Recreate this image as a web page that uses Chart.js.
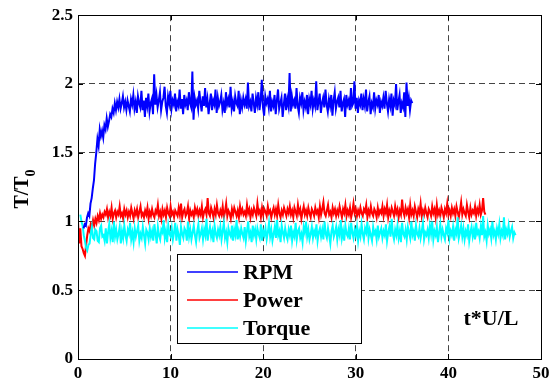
<!DOCTYPE html>
<html>
<head>
<meta charset="utf-8">
<script src="https://cdn.jsdelivr.net/npm/chart.js@4.4.0/dist/chart.umd.min.js"></script>
<style>
  html, body { margin: 0; padding: 0; background: #fff; }
  #wrap { width: 555px; height: 383px; }
</style>
</head>
<body>
<div id="wrap"><canvas id="plot" width="555" height="383"></canvas></div>
<script>
// muestreo de las tres señales (paso en t*U/L)
const dt = 0.125;

const rpmStart = 0.6;
const rpm = [
  0.95, 0.98, 0.97, 1.03, 1.06, 1.04, 1.13, 1.17, 1.24, 1.30, 1.42, 1.50, 1.60, 1.55, 1.67, 1.62, 1.66, 1.61, 1.70, 1.67,
  1.75, 1.69, 1.73, 1.78, 1.76, 1.82, 1.79, 1.86, 1.81, 1.87, 1.83, 1.89, 1.82, 1.86, 1.91, 1.83, 1.87, 1.81, 1.88,
  1.84, 1.80, 1.89, 1.85, 1.92, 1.82, 1.87, 1.79, 1.91, 1.86, 1.83, 1.95, 1.81, 1.88, 1.76, 1.90, 1.84, 1.93, 1.80, 1.86,
  1.89, 1.78, 2.07, 1.85, 1.92, 1.83, 1.88, 1.94, 1.81, 1.87, 1.90, 1.98, 1.84, 1.79, 1.91, 1.86, 1.95, 1.82, 1.88, 1.85,
  1.93, 1.80, 1.87, 1.84, 1.96, 1.82, 1.89, 1.78, 1.92, 1.85, 1.88, 1.81, 1.94, 1.86, 1.83, 2.09, 1.74, 1.90, 1.85, 1.88,
  1.82, 1.95, 1.87, 1.80, 1.91, 1.84, 1.97, 1.83, 1.89, 1.78, 1.86, 1.93, 1.81, 1.88, 1.85, 1.96, 1.79, 1.90, 1.84, 1.87,
  1.92, 1.81, 1.86, 1.79, 1.94, 1.85, 1.89, 1.83, 1.98, 1.82, 1.87, 1.80, 1.91, 1.86, 1.84, 1.95, 1.78, 1.88, 1.83, 1.90,
  1.85, 1.89, 1.82, 2.01, 1.84, 1.87, 1.80, 1.93, 1.86, 1.79, 1.90, 1.85, 1.94, 1.81, 1.88, 2.03, 1.83, 1.77, 1.91, 1.86,
  1.89, 1.83, 1.95, 1.80, 1.87, 1.84, 1.92, 1.78, 1.88, 1.96, 1.82, 1.86, 1.90, 1.76, 1.85, 1.93, 1.81, 1.89, 1.84, 2.08,
  1.80, 1.91, 1.85, 1.88, 1.82, 1.97, 1.84, 1.79, 1.90, 1.86, 1.94, 1.81, 1.87, 1.83, 1.92, 1.78, 1.89, 1.85, 1.95, 1.82,
  1.88, 1.84, 2.02, 1.81, 1.87, 1.93, 1.79, 1.86, 1.90, 1.83, 1.96, 1.85, 1.80, 1.89, 1.84, 1.92, 1.77, 1.88, 1.94, 1.82,
  1.87, 1.90, 1.83, 1.95, 1.80, 1.86, 1.89, 1.76, 1.92, 1.85, 1.88, 1.81, 1.97, 1.84, 1.86, 2.02, 1.82, 1.90, 1.79, 1.88,
  1.85, 1.93, 1.81, 1.89, 1.84, 1.96, 1.80, 1.87, 1.91, 1.78, 1.86, 1.83, 1.94, 1.82, 1.88, 1.85, 1.92, 1.79, 1.87, 1.84,
  1.90, 1.82, 1.95, 1.86, 1.80, 1.89, 1.84, 1.93, 1.77, 1.88, 1.85, 2.00, 1.81, 1.87, 1.92, 1.79, 1.86, 1.83, 1.94, 1.76,
  2.01, 1.84, 1.90, 1.81, 1.88, 1.86
];

const powerStart = 0;
const power = [
  1.00, 0.84, 0.95, 0.82, 0.80, 0.77, 0.75, 0.83, 0.90, 0.95, 0.93, 0.98, 0.96, 1.01, 0.97, 1.02, 0.99, 1.04, 1.01, 1.06,
  1.02, 1.05, 1.03, 1.07,
  1.05, 1.09, 1.03, 1.07, 1.04, 1.10, 1.02, 1.06, 1.08, 1.03, 1.07, 1.05, 1.11, 1.04, 1.06, 1.02, 1.09, 1.05, 1.08, 1.03,
  1.07, 1.04, 1.10, 1.06, 1.02, 1.08, 1.05, 1.09, 1.03, 1.07, 1.11, 1.04, 1.06, 1.03, 1.08, 1.05, 1.10, 1.02, 1.07, 1.04,
  1.09, 1.05, 1.03, 1.08, 1.06, 1.12, 1.04, 1.07, 1.02, 1.09, 1.05, 1.08, 1.03, 1.10, 1.06, 1.04, 1.11, 1.05, 1.07, 1.03,
  1.08, 1.06, 1.04, 1.10, 1.05, 1.13, 1.03, 1.07, 1.09, 1.04, 1.06, 1.11, 1.02, 1.08, 1.05, 1.07, 1.03, 1.10, 1.06, 1.09,
  1.04, 1.08, 1.05, 1.11, 1.03, 1.07, 1.09, 1.05, 1.17, 1.06, 1.04, 1.10, 1.07, 1.03, 1.09, 1.05, 1.12, 1.06, 1.04, 1.08,
  1.05, 1.11, 1.03, 1.07, 1.13, 1.04, 1.08, 1.06, 1.02, 1.09, 1.05, 1.10, 1.07, 1.04, 1.08, 1.03, 1.11, 1.06, 1.09, 1.05,
  1.07, 1.04, 1.12, 1.06, 1.09, 1.03, 1.08, 1.05, 1.10, 1.07, 1.04, 1.13, 1.06, 1.08, 1.03, 1.10, 1.05, 1.09, 1.07, 1.04,
  1.11, 1.06, 1.08, 1.03, 1.07, 1.10, 1.05, 1.09, 1.04, 1.12, 1.06, 1.03, 1.08, 1.05, 1.10, 1.07, 1.04, 1.09, 1.06, 1.11,
  1.05, 1.08, 1.03, 1.10, 1.07, 1.04, 1.12, 1.06, 1.09, 1.02, 1.07, 1.11, 1.05, 1.08, 1.04, 1.10, 1.06, 1.03, 1.09, 1.07,
  1.04, 1.10, 1.06, 1.08, 1.03, 1.11, 1.05, 1.09, 1.14, 1.06, 1.04, 1.08, 1.12, 1.05, 1.07, 1.03, 1.10, 1.06, 1.09, 1.04,
  1.08, 1.05, 1.11, 1.07, 1.03, 1.09, 1.06, 1.12, 1.04, 1.08, 1.05, 1.10, 1.03, 1.07, 1.13, 1.06, 1.09, 1.04, 1.08, 1.05,
  1.10, 1.06, 1.04, 1.09, 1.07, 1.12, 1.03, 1.08, 1.05, 1.11, 1.06, 1.04, 1.09, 1.07, 1.03, 1.10, 1.05, 1.08, 1.06, 1.11,
  1.04, 1.09, 1.06, 1.12, 1.03, 1.08, 1.05, 1.10, 1.07, 1.04, 1.11, 1.06, 1.09, 1.03, 1.08, 1.05, 1.16, 1.07, 1.04, 1.10,
  1.06, 1.09, 1.03, 1.12, 1.05, 1.08, 1.04, 1.11, 1.07, 1.03, 1.09, 1.06, 1.13, 1.04, 1.08, 1.05, 1.10, 1.06, 1.03, 1.09,
  1.07, 1.04, 1.11, 1.06, 1.09, 1.03, 1.12, 1.05, 1.08, 1.04, 1.10, 1.07, 1.03, 1.09, 1.06, 1.13, 1.05, 1.08, 1.04, 1.10,
  1.06, 1.09, 1.04, 1.11, 1.07, 1.03, 1.08, 1.14, 1.05, 1.09, 1.06, 1.04, 1.12, 1.07, 1.03, 1.10, 1.05, 1.08, 1.06, 1.11,
  1.04, 1.09, 1.06, 1.12, 1.05, 1.08, 1.17, 1.07, 1.05
];

const torqueStart = 0.25;
const torque = [
  1.05, 1.00, 0.97, 0.90, 0.86, 0.81, 0.79, 0.83, 0.84, 0.91, 0.96, 0.88, 0.87, 0.94, 0.93, 0.86, 0.85, 0.95, 0.97, 0.89,
  0.90, 0.86, 0.95, 0.84, 0.92, 0.98, 0.88, 0.93, 0.85, 1.00, 0.89, 0.94, 0.87, 0.91, 0.96, 0.84, 0.93, 0.88, 0.97, 0.90,
  0.86, 0.94, 0.91, 0.99, 0.87, 0.92, 0.85, 0.95, 0.89, 0.93, 0.97, 0.86, 0.91, 0.88, 0.96, 0.90, 0.84, 0.94, 0.92, 0.87,
  0.95, 0.89, 0.93, 0.86, 0.98, 0.91, 0.84, 0.96, 0.90, 0.87, 0.94, 0.92, 1.01, 0.88, 0.93, 0.85, 0.97, 0.91, 0.89, 0.95,
  0.87, 0.92, 0.99, 0.86, 0.94, 0.90, 0.83, 0.96, 0.91, 0.88, 0.95, 0.93, 0.86, 1.00, 0.89, 0.94, 0.87, 0.92, 0.97, 0.90,
  0.85, 0.93, 0.98, 0.88, 0.91, 0.95, 0.87, 0.94, 0.90, 1.02, 0.86, 0.92, 0.96, 0.89, 0.93, 0.85, 0.97, 0.91, 0.88, 0.94,
  0.90, 0.96, 0.87, 0.93, 0.99, 0.88, 0.92, 0.85, 0.95, 0.91, 0.89, 0.97, 0.86, 0.94, 0.90, 1.01, 0.87, 0.93, 0.89, 0.95,
  0.91, 0.88, 0.96, 0.86, 0.93, 1.00, 0.89, 0.92, 0.85, 0.97, 0.90, 0.94, 0.87, 0.95, 0.91, 0.88, 0.98, 0.86, 0.93, 0.90,
  0.95, 0.87, 0.92, 0.99, 0.89, 0.94, 0.86, 0.91, 0.96, 0.88, 1.01, 0.90, 0.93, 0.85, 0.97, 0.92, 0.88, 0.95, 0.90, 0.87,
  0.94, 0.90, 0.97, 0.86, 0.92, 0.89, 0.99, 0.87, 0.93, 0.95, 0.88, 0.91, 0.85, 0.96, 0.92, 1.00, 0.89, 0.94, 0.87, 0.91,
  0.96, 0.88, 0.93, 0.90, 0.98, 0.86, 0.92, 0.95, 0.89, 0.94, 0.87, 1.00, 0.91, 0.88, 0.95, 0.90, 0.84, 0.93, 0.97, 0.89,
  0.92, 0.96, 0.87, 0.94, 0.90, 1.01, 0.88, 0.93, 0.86, 0.97, 0.91, 0.89, 0.95, 0.87, 0.99, 0.92, 0.88, 0.94, 0.90, 0.96,
  0.86, 0.93, 0.89, 0.98, 0.91, 0.87, 0.95, 0.92, 1.00, 0.88, 0.94, 0.90, 0.86, 0.96, 0.91, 0.93, 0.87, 0.97, 0.89, 0.92,
  0.95, 0.88, 0.93, 0.90, 0.98, 0.86, 0.92, 0.96, 0.89, 1.02, 0.91, 0.87, 0.94, 0.90, 0.97, 0.88, 0.93, 0.85, 0.99, 0.91,
  0.89, 0.94, 0.87, 0.96, 0.92, 0.88, 1.00, 0.90, 0.93, 0.86, 0.97, 0.91, 0.89, 0.95, 0.88, 0.93, 0.99, 0.87, 0.92, 0.90,
  0.94, 0.88, 0.97, 0.91, 1.00, 0.87, 0.93, 0.90, 0.96, 0.85, 0.92, 0.98, 0.89, 0.94, 0.90, 0.87, 0.95, 0.92, 1.01, 0.88,
  0.93, 0.90, 0.96, 0.86, 0.94, 0.91, 1.03, 0.88, 0.92, 0.97, 0.89, 0.95, 0.87, 0.93, 0.90, 0.98, 0.86, 0.92, 0.96, 0.89,
  0.94, 0.87, 0.99, 0.91, 0.93, 0.88, 0.96, 0.90, 1.04, 0.89, 0.92, 0.86, 0.97, 0.91, 0.94, 0.88, 1.00, 0.90, 0.93, 0.87,
  0.95, 0.91, 0.98, 0.88, 0.93, 0.90, 1.03, 0.87, 0.94, 0.91, 0.97, 0.89, 0.93, 0.96, 0.88, 0.92, 0.90
];

const seriesNames = ['RPM', 'Power', 'Torque'];
const seriesColors = ['#0000ff', '#ff0000', '#00ffff'];
const xTicks = [0, 10, 20, 30, 40, 50];
const yTicks = [0, 0.5, 1, 1.5, 2, 2.5];
const xLabel = 't*U/L';

const serif = "'Liberation Serif', 'Times New Roman', serif";

function toPoints(start, values) {
  return values.map((v, i) => ({ x: start + i * dt, y: v }));
}

// caja del eje con marcas hacia dentro (estilo matlab)
const frame = {
  id: 'frame',
  afterDraw(chart) {
    const { ctx, chartArea: a, scales } = chart;
    ctx.save();
    ctx.strokeStyle = '#000';
    ctx.lineWidth = 1;
    ctx.strokeRect(Math.round(a.left) + 0.5, Math.round(a.top) + 0.5,
      Math.round(a.right - a.left), Math.round(a.bottom - a.top));
    ctx.beginPath();
    xTicks.forEach(t => {
      const px = Math.round(scales.x.getPixelForValue(t)) + 0.5;
      ctx.moveTo(px, a.bottom); ctx.lineTo(px, a.bottom - 5);
      ctx.moveTo(px, a.top); ctx.lineTo(px, a.top + 5);
    });
    yTicks.forEach(t => {
      const py = Math.round(scales.y.getPixelForValue(t)) + 0.5;
      ctx.moveTo(a.left, py); ctx.lineTo(a.left + 5, py);
      ctx.moveTo(a.right, py); ctx.lineTo(a.right - 5, py);
    });
    ctx.stroke();
    ctx.restore();
  }
};

// titulo del eje y con subindice, leyenda y etiqueta t*U/L
const labels = {
  id: 'labels',
  afterDraw(chart) {
    const { ctx } = chart;
    ctx.save();
    ctx.fillStyle = '#000';

    // T/T0 vertical
    ctx.translate(23, 189);
    ctx.rotate(-Math.PI / 2);
    ctx.font = 'bold 20px ' + serif;
    const main = 'T/T';
    const wMain = ctx.measureText(main).width;
    ctx.font = 'bold 14px ' + serif;
    const wSub = ctx.measureText('0').width;
    const x0 = -(wMain + wSub) / 2;
    ctx.textBaseline = 'middle';
    ctx.font = 'bold 20px ' + serif;
    ctx.fillText(main, x0, 0);
    ctx.font = 'bold 14px ' + serif;
    ctx.fillText('0', x0 + wMain, 8);
    ctx.restore();

    // leyenda
    ctx.save();
    const bx = 177.5, by = 254.5, bw = 184, bh = 89;
    ctx.fillStyle = '#fff';
    ctx.fillRect(bx, by, bw, bh);
    ctx.strokeStyle = '#000';
    ctx.lineWidth = 1;
    ctx.strokeRect(bx, by, bw, bh);
    ctx.font = 'bold 22px ' + serif;
    ctx.textBaseline = 'middle';
    seriesNames.forEach((name, i) => {
      const ry = 272 + i * 28;
      ctx.strokeStyle = seriesColors[i];
      ctx.lineWidth = 1.5;
      ctx.beginPath();
      ctx.moveTo(187, ry);
      ctx.lineTo(238, ry);
      ctx.stroke();
      ctx.fillStyle = '#000';
      ctx.fillText(name, 243, ry + 1);
    });

    // etiqueta del eje x dentro del area
    ctx.textAlign = 'center';
    ctx.fillText(xLabel, 491, 319);
    ctx.restore();
  }
};

const ctx = document.getElementById('plot').getContext('2d');
new Chart(ctx, {
  type: 'line',
  data: {
    datasets: [
      { label: seriesNames[0], data: toPoints(rpmStart, rpm), borderColor: seriesColors[0], order: 0 },
      { label: seriesNames[1], data: toPoints(powerStart, power), borderColor: seriesColors[1], order: 2 },
      { label: seriesNames[2], data: toPoints(torqueStart, torque), borderColor: seriesColors[2], order: 1 }
    ]
  },
  options: {
    responsive: false,
    animation: false,
    layout: { padding: { left: 0, right: 14, top: 15, bottom: 0 } },
    elements: {
      point: { radius: 0 },
      line: { borderWidth: 2, tension: 0, fill: false }
    },
    plugins: {
      legend: { display: false },
      tooltip: { enabled: false }
    },
    scales: {
      x: {
        type: 'linear',
        min: 0,
        max: 50,
        afterBuildTicks(s) { s.ticks = xTicks.map(v => ({ value: v })); },
        afterFit(s) { s.height = 24; },
        ticks: { color: '#000', font: { family: serif, size: 17, weight: 'bold' }, padding: 4, maxRotation: 0,
                 callback: v => String(v) },
        grid: { color: '#444', lineWidth: 1, drawTicks: false },
        border: { display: true, color: '#000', dash: [6, 4] }
      },
      y: {
        min: 0,
        max: 2.5,
        afterBuildTicks(s) { s.ticks = yTicks.map(v => ({ value: v })); },
        afterFit(s) { s.width = 78; },
        ticks: { color: '#000', font: { family: serif, size: 17, weight: 'bold' }, padding: 5,
                 callback: v => String(v) },
        grid: { color: '#444', lineWidth: 1, drawTicks: false },
        border: { display: true, color: '#000', dash: [6, 4] }
      }
    }
  },
  plugins: [frame, labels]
});
</script>
</body>
</html>
